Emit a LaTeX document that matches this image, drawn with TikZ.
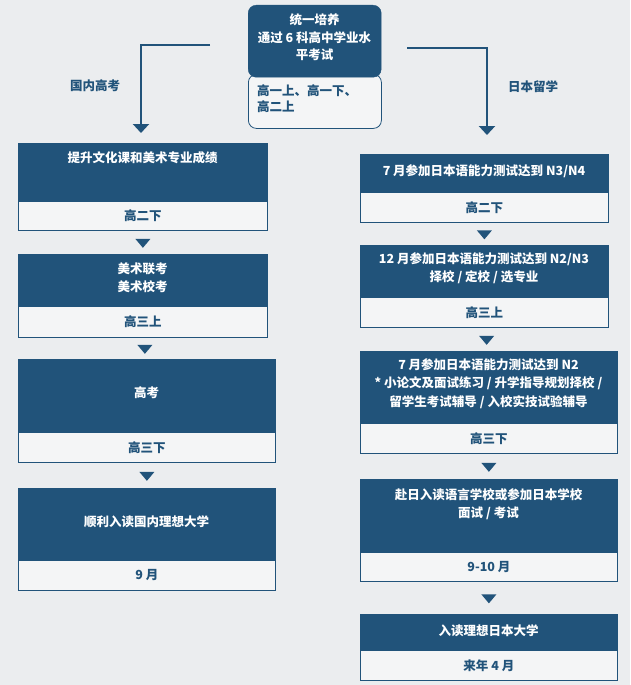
\documentclass[tikz,border=0pt]{standalone}
\usepackage{fontspec}
\newfontfamily\cjk{Noto Sans CJK SC}
\usetikzlibrary{arrows.meta,shapes.geometric}
\definecolor{dblue}{RGB}{33,83,122}
\definecolor{bgc}{RGB}{235,237,239}
\definecolor{lightc}{RGB}{244,245,246}
\tikzset{
  darkpart/.style={fill=dblue,draw=dblue,line width=0.8pt,inner sep=0pt,anchor=north west},
  lightpart/.style={fill=lightc,draw=dblue,line width=0.8pt,inner sep=0pt,anchor=north west,
     text=dblue,font=\cjk\bfseries\fontsize{12.5}{18}\selectfont},
  wtext/.style={text=white,font=\cjk\bfseries\fontsize{12.5}{18.5}\selectfont,align=center,inner sep=0pt},
  btext/.style={text=dblue,font=\cjk\bfseries\fontsize{12.5}{18}\selectfont,inner sep=0pt},
  tri/.style={fill=dblue,isosceles triangle,shape border rotate=270,isosceles triangle apex angle=80,
     minimum width=15pt,minimum height=8pt,inner sep=0pt},
  bigarrow/.style={draw=dblue,line width=2.8pt,-{Triangle[width=16pt,length=9pt]}},
}
\begin{document}
\begin{tikzpicture}[x=1pt,y=-1pt]
\fill[bgc] (0,0) rectangle (630,685);
\useasboundingbox (0,0) rectangle (630,685);

% top box
\node[fill=lightc,draw=dblue,line width=0.8pt,rounded corners=8pt,anchor=north west,inner sep=0pt,
  minimum width=133pt,minimum height=54pt] (topb) at (248,74) {};
\node[fill=dblue,draw=dblue,rounded corners=8pt,anchor=north west,inner sep=0pt,
  minimum width=133pt,minimum height=72pt] (topa) at (248,5) {};
\node[wtext,font=\cjk\bfseries\fontsize{12.5}{17.5}\selectfont] (topt) at (314.5,37.5) {统一培养\\通过 6 科高中学业水\\平考试};
\node[btext,align=left,anchor=north west,font=\cjk\bfseries\fontsize{12.5}{16}\selectfont] (topbt) at (257,84) {高一上、高一下、\\高二上};

% labels
\node[btext] (lblL) at (95,86) {国内高考};
\node[btext] (lblR) at (533,87) {日本留学};

% left column
\node[darkpart,minimum width=249pt,minimum height=58pt] (l1a) at (18,143) {};
\node[lightpart,minimum width=249pt,minimum height=29pt] (l1b) at (18,201) {};
\node[btext] (l1bt) at (l1b.center) {高二下};
\node[wtext] (l1t) at (142.5,158) {提升文化课和美术专业成绩};

\node[darkpart,minimum width=249pt,minimum height=52pt] (l2a) at (18,254) {};
\node[lightpart,minimum width=249pt,minimum height=31pt] (l2b) at (18,306) {};
\node[btext] (l2bt) at (l2b.center) {高三上};
\node[wtext] (l2t) at (142.5,277.5) {美术联考\\美术校考};

\node[darkpart,minimum width=257pt,minimum height=73pt] (l3a) at (18,359) {};
\node[lightpart,minimum width=257pt,minimum height=30pt] (l3b) at (18,432) {};
\node[btext] (l3bt) at (l3b.center) {高三下};
\node[wtext] (l3t) at (146.5,393) {高考};

\node[darkpart,minimum width=257pt,minimum height=72pt] (l4a) at (18,488) {};
\node[lightpart,minimum width=257pt,minimum height=30pt] (l4b) at (18,560) {};
\node[btext] (l4bt) at (l4b.center) {9 月};
\node[wtext] (l4t) at (146.5,522) {顺利入读国内理想大学};

\path (l1b.south) -- (l2a.north) node[midway,tri] (lt1) {};
\path (l2b.south) -- (l3a.north) node[midway,tri] (lt2) {};
\path (l3b.south) -- (l4a.north) node[midway,tri] (lt3) {};

% right column
\node[darkpart,minimum width=248pt,minimum height=38pt] (r1a) at (360,154) {};
\node[lightpart,minimum width=248pt,minimum height=30pt] (r1b) at (360,192) {};
\node[btext] (r1bt) at (r1b.center) {高二下};
\node[wtext] (r1t) at (484,171.5) {7 月参加日本语能力测试达到 N3/N4};

\node[darkpart,minimum width=248pt,minimum height=52pt] (r2a) at (360,245) {};
\node[lightpart,minimum width=248pt,minimum height=30pt] (r2b) at (360,297) {};
\node[btext] (r2bt) at (r2b.center) {高三上};
\node[wtext] (r2t) at (484,268) {12 月参加日本语能力测试达到 N2/N3\\择校 / 定校 / 选专业};

\node[darkpart,minimum width=257pt,minimum height=72pt] (r3a) at (360,351) {};
\node[lightpart,minimum width=257pt,minimum height=30pt] (r3b) at (360,423) {};
\node[btext] (r3bt) at (r3b.center) {高三下};
\node[wtext] (r3t) at (488.5,383.5) {7 月参加日本语能力测试达到 N2\\* 小论文及面试练习 / 升学指导规划择校 /\\留学生考试辅导 / 入校实技试验辅导};

\node[darkpart,minimum width=257pt,minimum height=73pt] (r4a) at (360,479) {};
\node[lightpart,minimum width=257pt,minimum height=29pt] (r4b) at (360,552) {};
\node[btext] (r4bt) at (r4b.center) {9-10 月};
\node[wtext] (r4t) at (488.5,504) {赴日入读语言学校或参加日本学校\\面试 / 考试};

\node[darkpart,minimum width=257pt,minimum height=36pt] (r5a) at (360,614) {};
\node[lightpart,minimum width=257pt,minimum height=30pt] (r5b) at (360,650) {};
\node[btext] (r5bt) at (r5b.center) {来年 4 月};
\node[wtext] (r5t) at (488.5,631) {入读理想日本大学};

\path (r1b.south) -- (r2a.north) node[midway,tri] (rt1) {};
\path (r2b.south) -- (r3a.north) node[midway,tri] (rt2) {};
\path (r3b.south) -- (r4a.north) node[midway,tri] (rt3) {};
\path (r4b.south) -- (r5a.north) node[midway,tri] (rt4) {};

% big arrows
\coordinate (ls) at (210,45);
\coordinate (rs) at (407,48);
\coordinate (lc) at (141,45);
\coordinate (rc) at (487,48);
\draw[bigarrow,shorten >=10pt] (ls) -- (lc) -- (lc |- l1a.north);
\draw[bigarrow,shorten >=19pt] (rs) -- (rc) -- (rc |- r1a.north);
\end{tikzpicture}
\end{document}
